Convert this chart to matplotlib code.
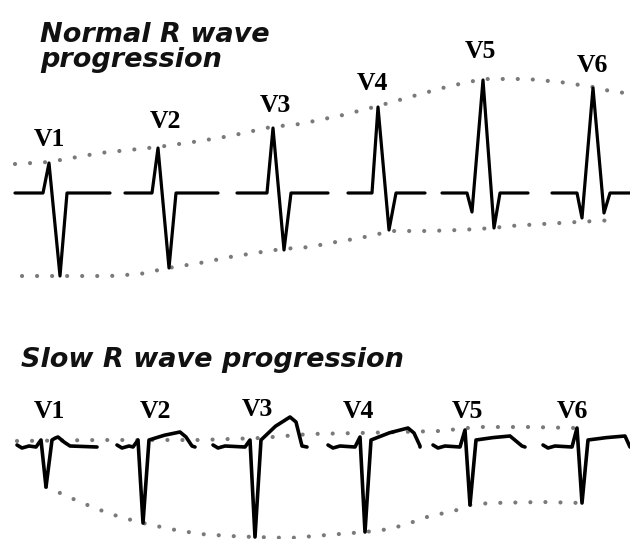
import numpy as np
import matplotlib.pyplot as plt

# --- dados (amplitudes em px acima/abaixo da linha de base) ---
leads = ['V1', 'V2', 'V3', 'V4', 'V5', 'V6']

# progressão normal
r_normal = [30, 45, 65, 86, 113, 105]
s_normal = [83, 75, 57, 37, 35, 20]
q_normal = [0, 0, 0, 0, 19, 25]

# progressão lenta
r_slow = [5, 5, 5, 8, 15, 17]
s_slow = [42, 78, 92, 87, 60, 58]
t_slow = [8, 13, 28, 17, 9, 9]

# envelopes pontilhados (pontos lidos ao longo das curvas)
env_normal_top_x = [15, 49, 100, 158, 200, 230, 271, 300, 343, 378, 417, 450, 483, 527, 560, 593, 610, 625]
env_normal_top_y = [164, 162, 153, 147, 141, 136, 127, 124, 115, 106, 95, 86, 79, 79, 82, 87, 91, 93]
env_normal_bot_x = [22, 60, 110, 140, 168, 200, 230, 255, 282, 310, 330, 360, 392, 427, 460, 493, 510, 543, 577, 615]
env_normal_bot_y = [276, 276, 276, 274, 268, 263, 257, 253, 249, 247, 243, 238, 231, 231, 230, 228, 226, 224, 222, 220]
env_slow_top_x = [17, 100, 200, 260, 310, 360, 400, 440, 477, 530, 575]
env_slow_top_y = [441, 440, 440, 438, 434, 433, 432, 431, 427, 427, 428]
env_slow_bot_x = [46, 60, 80, 100, 120, 143, 170, 200, 230, 255, 290, 327, 365, 390, 410, 427, 457, 470, 490, 543, 582]
env_slow_bot_y = [487, 493, 502, 510, 517, 523, 529, 534, 536, 537, 538, 535, 532, 529, 523, 517, 510, 505, 503, 502, 503]

# --- geometria (pixels) ---
W, H = 630, 539
base_top = 193
base_bot = 445
cx_top = [49, 158, 273, 378, 483, 593]          # posição do pico R
seg_top = [(15, 110), (125, 218), (237, 328), (348, 425), (442, 528), (552, 630)]
cx_bot = [46, 143, 255, 365, 470, 582]          # posição da onda S
seg_bot = [(17, 97), (117, 195), (213, 307), (328, 420), (433, 525), (543, 630)]
t_pos = [12, 37, 35, 43, 40, 43]                # deslocamento do pico T

lbl_top = [(49, 140), (165, 121), (275, 106), (372, 83), (480, 52), (592, 65)]
lbl_bot = [(49, 411), (155, 411), (257, 410), (358, 411), (467, 411), (572, 411)]

ecg_top = dict(color='black', lw=2.3, solid_joinstyle='round', solid_capstyle='round')
ecg_bot = dict(color='black', lw=2.6, solid_joinstyle='round', solid_capstyle='round')
dots = dict(color='#7a7a7a', lw=3.0, linestyle=(0, (0.01, 3.6)), dash_capstyle='round')


def complexo_normal(cx, r, s, q, x0, x1):
    if q > 0:
        xs = [x0, cx - 16, cx - 11, cx, cx + 11, cx + 17, x1]
        ys = [0, 0, -q, r, -s, 0, 0]
    else:
        xs = [x0, cx - 6, cx, cx + 11, cx + 18, x1]
        ys = [0, 0, r, -s, 0, 0]
    return np.array(xs), base_top - np.array(ys)


def complexo_lento(cx, r, s, t, tp, x0, x1):
    xs = [x0, x0 + 5, x0 + 12, cx - 10, cx - 5, cx, cx + 6,
          cx + (6 + tp) / 2, cx + tp, cx + tp + 6, cx + tp + 12, x1]
    ys = [0, -3, -1, -2, r, -s, 5,
          5 + (t - 5) * 0.6, t, t - 5, -1, -2]
    xs = np.array(xs, dtype=float)
    ys = np.array(ys, dtype=float)
    keep = xs <= x1
    return xs[keep], base_bot - ys[keep]


fig = plt.figure(figsize=(W / 100, H / 100), dpi=100)
ax = fig.add_axes([0, 0, 1, 1])
ax.set_xlim(0, W)
ax.set_ylim(H, 0)
ax.axis('off')

# envelopes
ax.plot(env_normal_top_x, env_normal_top_y, **dots)
ax.plot(env_normal_bot_x, env_normal_bot_y, **dots)
ax.plot(env_slow_top_x, env_slow_top_y, **dots)
ax.plot(env_slow_bot_x, env_slow_bot_y, **dots)

# traçados
for i in range(len(leads)):
    x, y = complexo_normal(cx_top[i], r_normal[i], s_normal[i], q_normal[i], *seg_top[i])
    ax.plot(x, y, **ecg_top)
    x, y = complexo_lento(cx_bot[i], r_slow[i], s_slow[i], t_slow[i], t_pos[i], *seg_bot[i])
    ax.plot(x, y, **ecg_bot)

# rótulos das derivações
for nome, (x, y) in zip(leads, lbl_top):
    ax.text(x, y, nome, ha='center', va='center', fontsize=18.5,
            fontweight='bold', family='Liberation Serif')
for nome, (x, y) in zip(leads, lbl_bot):
    ax.text(x, y, nome, ha='center', va='center', fontsize=18.5,
            fontweight='bold', family='Liberation Serif')

# títulos
tit = dict(fontsize=19.5, fontweight='bold', fontstyle='italic', family='DejaVu Sans',
           ha='left', color='#111111')
ax.text(40, 22, 'Normal R wave\nprogression', va='top', linespacing=0.95, **tit)
ax.text(21, 367, 'Slow R wave progression', va='baseline', **tit)

fig.savefig('out.png', dpi=100)
